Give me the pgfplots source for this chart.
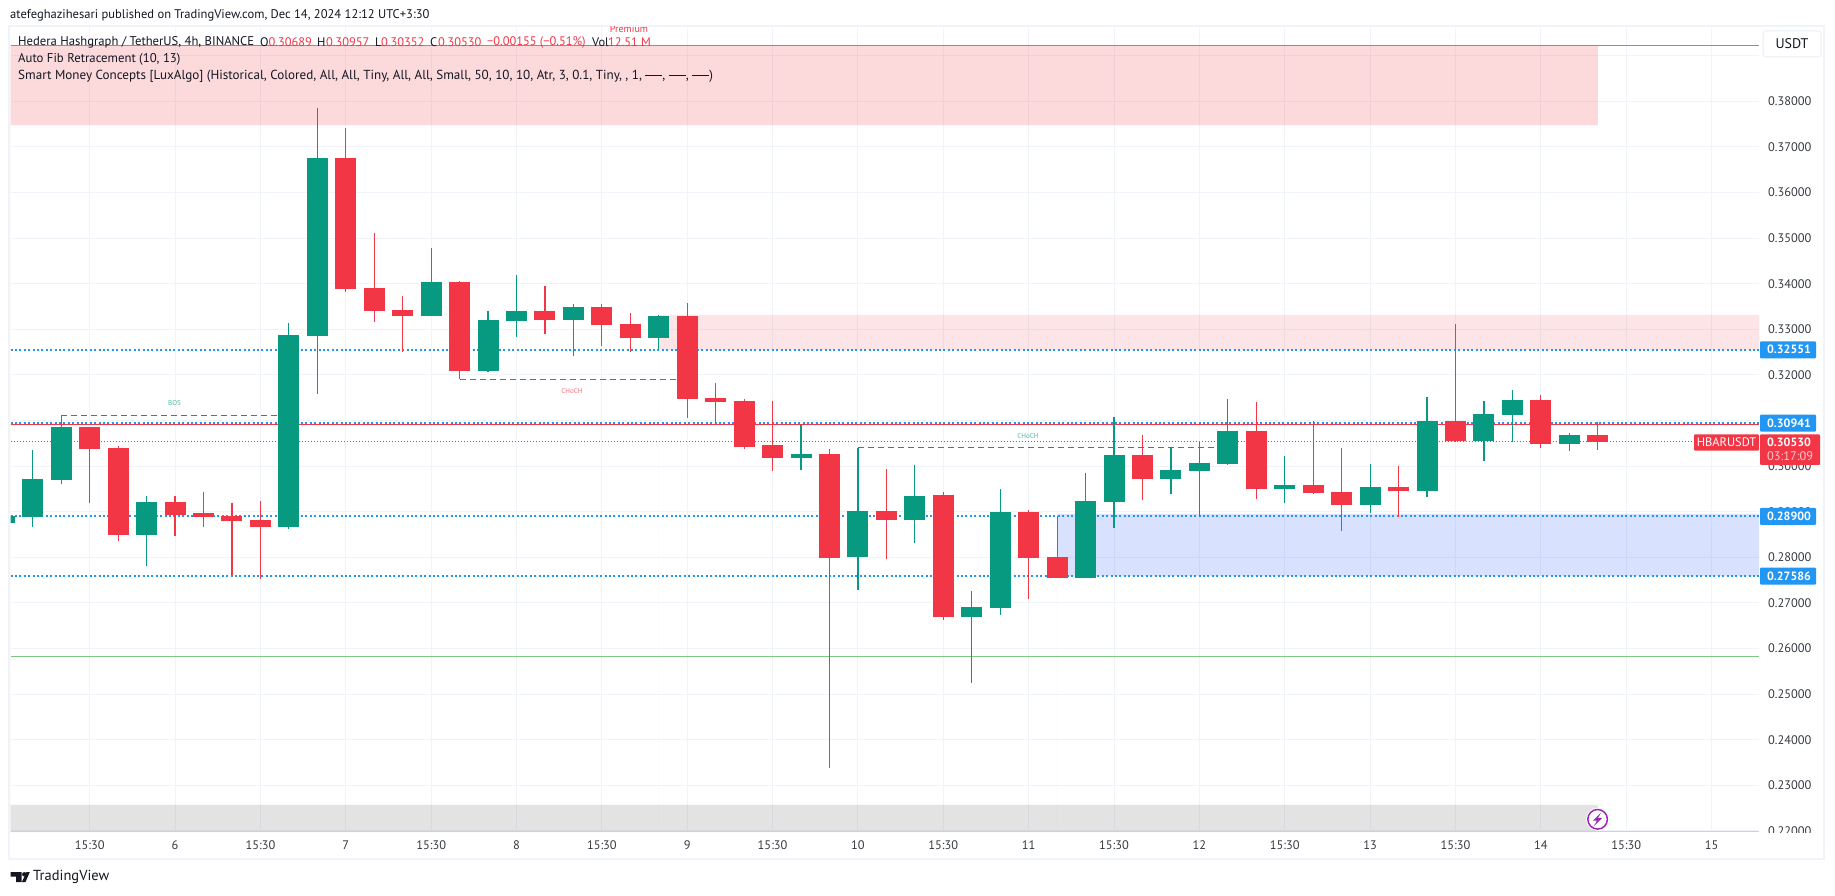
\documentclass[border=0pt]{standalone}
\usepackage{pgfplots}
\usepackage{pgfplotstable}
\usepackage{fontspec}
\pgfplotsset{compat=1.18}
\setmainfont{PT Sans}
\definecolor{up}{HTML}{089981}
\definecolor{down}{HTML}{F23645}
\definecolor{gridc}{HTML}{F0F3FA}
\definecolor{blu}{HTML}{2196F3}
\definecolor{txt}{HTML}{131722}
\definecolor{zblue}{HTML}{2962FF}
\definecolor{greenl}{HTML}{81C784}
\definecolor{topl}{HTML}{8090BB}
\definecolor{purp}{HTML}{9C27B0}
\pgfplotstableread{
i o h l c
0 .28758 .28928 .28752 .28906
1 .28890 .30353 .28671 .29717
2 .29695 .31114 .29607 .30857
5 .28489 .29344 .27809 .29213
10 .28664 .33138 .28621 .32875
11 .32853 .37853 .31581 .36757
15 .33292 .34783 .33292 .34037
17 .32086 .33401 .32064 .33204
18 .33182 .34191 .32832 .33401
20 .33204 .33555 .32415 .33489
23 .32809 .33314 .32568 .33292
28 .30178 .30901 .29914 .30265
30 .28007 .30397 .27283 .29015
32 .28818 .30024 .28313 .29344
34 .26691 .27261 .25235 .26910
35 .26888 .29498 .26735 .28993
38 .27546 .29849 .27546 .29235
39 .29213 .31077 .28643 .30243
41 .29717 .30419 .29388 .29914
42 .29893 .30529 .28884 .30068
43 .30046 .31471 .30024 .30770
45 .29498 .30221 .29191 .29586
48 .29147 .30046 .28971 .29542
50 .29454 .31515 .29322 .30989
52 .30550 .31428 .30112 .31142
53 .31121 .31669 .30528 .31450
55 .30485 .30726 .30331 .30689
}\upcandles
\pgfplotstableread{
i o h l c
3 .30857 .30857 .29197 .30375
4 .30397 .30441 .28357 .28489
6 .29213 .29344 .28467 .28928
7 .28971 .29432 .28664 .28884
8 .28906 .29191 .27612 .28796
9 .28818 .29235 .27524 .28664
12 .36757 .37414 .33818 .33884
13 .33906 .35112 .33160 .33401
14 .33423 .33730 .32502 .33292
16 .34037 .34059 .31910 .32086
19 .33401 .33950 .32897 .33204
21 .33489 .33555 .32634 .33094
22 .33116 .33357 .32502 .32809
24 .33292 .33577 .31055 .31471
25 .31493 .31822 .30945 .31406
26 .31428 .31471 .30375 .30419
27 .30463 .31428 .29893 .30178
29 .30265 .30375 .23386 .27985
31 .29015 .29936 .27963 .28818
33 .29366 .29432 .26625 .26691
36 .28993 .29037 .27085 .27985
37 .28007 .28906 .27546 .27546
40 .30243 .30682 .29257 .29717
44 .30770 .31406 .29279 .29498
46 .29586 .30989 .29388 .29410
47 .29432 .30397 .28577 .29147
49 .29542 .30003 .28884 .29454
51 .30989 .33116 .30528 .30550
54 .31450 .31559 .30397 .30485
56 .30689 .30957 .30352 .30530
}\downcandles
\newcommand{\tfn}{\fontsize{12.4}{15}\selectfont}
\newcommand{\bfn}{\fontsize{12}{15}\selectfont\bfseries}
\newcommand{\lfn}{\fontsize{12.4}{15}\selectfont}
\newcommand{\dsh}{\rule[3.5pt]{17pt}{1pt}}
\begin{document}
\begin{tikzpicture}
\path[use as bounding box] (0,0) rectangle (1835pt,895pt);
\fill[white] (0,0) rectangle (1835pt,895pt);
\begin{scope}[x=1pt,y=-1pt,shift={(0pt,895pt)}]
\draw[gridc,line width=2.5pt] (9,26) rectangle (1824,859);
\end{scope}
\begin{axis}[
  at={(10.5pt,63pt)},anchor=south west,scale only axis,
  width=1748.5pt,height=805pt,
  xmin=0.217,xmax=61.665,ymin=0.219759,ymax=0.396294,
  axis line style={draw=none},
  major tick length=0pt,
  grid=major,grid style={color=gridc,line width=1pt},
  xtick={3,6,9,12,15,18,21,24,27,30,33,36,39,42,45,48,51,54,57,60},
  xticklabels={15:30,6,15:30,7,15:30,8,15:30,9,15:30,10,15:30,11,15:30,12,15:30,13,15:30,14,15:30,15},
  ytick={0.22,0.23,0.24,0.25,0.26,0.27,0.28,0.29,0.30,0.31,0.32,0.33,0.34,0.35,0.36,0.37,0.38,0.39},
  yticklabels={0.22000,0.23000,0.24000,0.25000,0.26000,0.27000,0.28000,0.29000,0.30000,,0.32000,0.33000,0.34000,0.35000,0.36000,0.37000,0.38000,},
  yticklabel pos=right,
  yticklabel style={anchor=west,inner sep=0pt,xshift=9pt,font=\tfn,text=txt!85},
  xticklabel style={anchor=center,inner sep=0pt,yshift=-13.5pt,font=\tfn,text=txt!85},
]
% zones
\addplot[draw=none,fill=down,fill opacity=0.19] coordinates {(0.217,0.3923)(56,0.3923)(56,0.3748)(0.217,0.3748)} \closedcycle;
\addplot[draw=none,fill=down,fill opacity=0.13] coordinates {(23,0.33314)(61.665,0.33314)(61.665,0.32551)(23,0.32551)} \closedcycle;
\addplot[draw=none,fill=zblue,fill opacity=0.18] coordinates {(37,0.2895)(61.665,0.2895)(61.665,0.27586)(37,0.27586)} \closedcycle;
\addplot[draw=none,fill=black!55,fill opacity=0.2] coordinates {(0.217,0.2257)(56,0.2257)(56,0.219759)(0.217,0.219759)} \closedcycle;
% levels
\addplot[color=topl,line width=1.2pt] coordinates {(0.217,0.3923)(61.665,0.3923)};
\addplot[color=black!18,line width=1pt] coordinates {(0.217,0.21985)(61.665,0.21985)};
\addplot[color=down,line width=1.4pt] coordinates {(0.217,0.30918)(61.665,0.30918)};
\addplot[color=blu,line width=2pt,dash pattern=on 2pt off 2.4pt] coordinates {(0.217,0.32551)(61.665,0.32551)};
\addplot[color=blu,line width=2pt,dash pattern=on 2pt off 2.4pt] coordinates {(0.217,0.30941)(61.665,0.30941)};
\addplot[color=blu,line width=2pt,dash pattern=on 2pt off 2.4pt] coordinates {(0.217,0.28900)(61.665,0.28900)};
\addplot[color=blu,line width=2pt,dash pattern=on 2pt off 2.4pt] coordinates {(0.217,0.27586)(61.665,0.27586)};
\addplot[color=down,line width=1pt,dash pattern=on 1pt off 2pt] coordinates {(0.217,0.30530)(59.3,0.30530)};
\addplot[color=greenl,line width=1.5pt] coordinates {(0.217,0.2582)(61.665,0.2582)};
% structure lines
\addplot[color=up,line width=1pt,dash pattern=on 6pt off 4pt] coordinates {(2,0.31114)(10,0.31114)};
\addplot[color=down,line width=1pt,dash pattern=on 6pt off 4pt] coordinates {(16,0.31910)(24,0.31910)};
\addplot[color=up,line width=1pt,dash pattern=on 6pt off 4pt] coordinates {(30,0.30397)(43,0.30397)};
% wicks
\addplot[draw=none,no markers,error bars/.cd,y dir=both,y explicit,error mark=none,error bar style={color=up,line width=1.2pt}]
  table[x=i,y expr={(\thisrow{h}+\thisrow{l})/2},y error expr={(\thisrow{h}-\thisrow{l})/2}]{\upcandles};
\addplot[draw=none,no markers,error bars/.cd,y dir=both,y explicit,error mark=none,error bar style={color=down,line width=1.2pt}]
  table[x=i,y expr={(\thisrow{h}+\thisrow{l})/2},y error expr={(\thisrow{h}-\thisrow{l})/2}]{\downcandles};
% bodies
\addplot[draw=none,no markers,error bars/.cd,y dir=both,y explicit,error mark=none,error bar style={color=up,line width=21pt}]
  table[x=i,y expr={(\thisrow{o}+\thisrow{c})/2},y error expr={(\thisrow{c}-\thisrow{o})/2}]{\upcandles};
\addplot[draw=none,no markers,error bars/.cd,y dir=both,y explicit,error mark=none,error bar style={color=down,line width=21pt}]
  table[x=i,y expr={(\thisrow{o}+\thisrow{c})/2},y error expr={(\thisrow{o}-\thisrow{c})/2}]{\downcandles};
\end{axis}
\begin{scope}[x=1pt,y=-1pt,shift={(0pt,895pt)}]
% hide clipped tick label
\fill[white] (1760,832.5) rectangle (1822,857.5);
% header
\node[anchor=west,inner sep=0pt,text=txt,font=\fontsize{12.55}{15}\selectfont] at (10,15) {atefeghazihesari published on TradingView.com, Dec 14, 2024 12:12 UTC+3:30};
\begin{scope}
\clip (0,27) rectangle (1759,60);
\node[anchor=center,inner sep=0pt,text=down,font=\fontsize{10}{11}\selectfont] at (629,29.5) {Premium};
\end{scope}
\node[anchor=west,inner sep=0pt,text=txt,font=\fontsize{12.65}{15}\selectfont] at (18,42) {Hedera Hashgraph / TetherUS, 4h, BINANCE};
\foreach \xx/\tt in {260/O,317/H,375/L,430/C,592/Vol}{
  \node[anchor=west,inner sep=0pt,text=txt,font=\lfn] at (\xx,42) {\tt};
}
\foreach \xx/\tt in {268.5/0.30689,326/0.30957,381/0.30352,438/0.30530,487/−0.00155 (−0.51\%),608/12.51 M}{
  \node[anchor=west,inner sep=0pt,text=down,font=\lfn] at (\xx,42) {\tt};
}
\node[anchor=west,inner sep=0pt,text=txt,font=\fontsize{12.76}{15}\selectfont] at (18,59) {Auto Fib Retracement (10, 13)};
\node[anchor=west,inner sep=0pt,text=txt,font=\fontsize{13.1}{15}\selectfont] at (18,76) {Smart Money Concepts [LuxAlgo] (Historical, Colored, All, All, Tiny, All, All, Small, 50, 10, 10, Atr, 3, 0.1, Tiny, , 1, \dsh, \dsh, \dsh)};
% small labels
\node[inner sep=0pt,text=up!70,font=\fontsize{7}{8}\selectfont] at (174.5,403.5) {BOS};
\node[inner sep=0pt,text=down!70,font=\fontsize{7}{8}\selectfont] at (572,390.7) {CHoCH};
\node[inner sep=0pt,text=up!70,font=\fontsize{7}{8}\selectfont] at (1028,435.7) {CHoCH};
% USDT box
\draw[gridc,line width=1.5pt,fill=white,rounded corners=3pt] (1763,31) rectangle (1821,57);
\node[inner sep=0pt,text=txt,font=\fontsize{14}{16}\selectfont] at (1792,44) {USDT};
% price tags
\foreach \yy/\tt in {349.8/0.32551,423.2/0.30941,516.3/0.28900,576.2/0.27586}{
  \fill[blu,rounded corners=1pt] (1760,\yy-8.5) rectangle (1816,\yy+8.5);
  \node[inner sep=0pt,text=white,font=\bfn] at (1789,\yy) {\tt};
}
\fill[down,rounded corners=1pt] (1694,434.3) rectangle (1759,450.7);
\node[inner sep=0pt,text=white,font=\tfn] at (1726.5,442.5) {HBARUSDT};
\fill[down,rounded corners=1pt] (1760,434.3) rectangle (1820,465);
\node[inner sep=0pt,text=white,font=\bfn] at (1789,442.5) {0.30530};
\node[inner sep=0pt,text=white,text opacity=0.75,font=\tfn] at (1790,456.5) {03:17:09};
% bolt icon
\fill[white] (1597.6,819.3) circle (11.5);
\draw[purp,line width=1.5pt] (1597.6,819.3) circle (9.8);
\fill[purp] (1601,812.5)--(1593,820.5)--(1597,820.5)--(1594,826)--(1602,818)--(1598,818)--cycle;
% logo
\fill[txt] (10.7,872)--(21.7,872)--(21.7,882)--(16,882)--(16,876.5)--(10.7,876.5)--cycle;
\fill[txt] (24.3,874.3) circle (2.2);
\fill[txt] (26.5,872)--(29.8,872)--(25.5,882)--(21.9,882)--cycle;
\node[anchor=west,inner sep=0pt,text=txt,font=\fontsize{14.5}{16}\selectfont] at (33,877) {TradingView};
\end{scope}
\end{tikzpicture}
\end{document}
